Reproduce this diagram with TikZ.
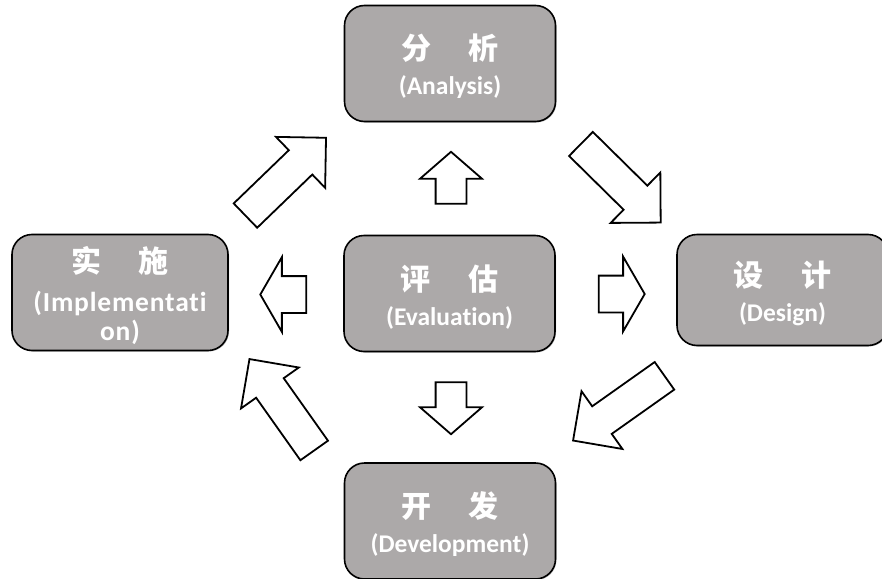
\documentclass[tikz,border=0pt]{standalone}
\usepackage{fontspec}
\setmainfont{Carlito}[Ligatures=NoCommon]
\newfontfamily\cjk{Noto Sans CJK SC}
\usetikzlibrary{calc, shapes.arrows, shadows}

\definecolor{boxgrey}{RGB}{172,169,169}

\tikzset{
	phase/.style = {draw = black, line width = 1.6pt, fill = boxgrey, rounded corners = 20pt,
		minimum width = 211pt, minimum height = 116pt, text = white, align = center,
		font = \fontsize{25.5}{29}\selectfont\bfseries, inner sep = 0pt,
		drop shadow = {shadow xshift = 1pt, shadow yshift = -1pt, opacity = 0.5}},
	blockarrow/.style = {single arrow, draw = black, fill = white, line width = 1.8pt, inner xsep = 0pt},
	bigarrow/.style = {blockarrow, inner ysep = 16pt, single arrow head extend = 18.5pt,
		single arrow tip angle = 90, minimum height = 112pt},
	vertarrow/.style = {blockarrow, inner ysep = 14.5pt, single arrow head extend = 15.5pt,
		single arrow tip angle = 98, minimum height = 52pt},
	horizarrow/.style = {blockarrow, inner ysep = 17.5pt, single arrow head extend = 19pt,
		single arrow tip angle = 120, minimum height = 46pt}
}
\newcommand{\zhpair}[2]{{\cjk\fontsize{30}{29}\selectfont #1\hspace{38pt}#2\rule{0pt}{32pt}}}
\newcommand{\wideen}{\fontsize{27.5}{29}\selectfont\addfontfeatures{LetterSpace=3}}

\begin{document}
\begin{tikzpicture}[x = 1pt, y = -1pt]
	\useasboundingbox (0,0) rectangle (882,578);

	\node[phase] (ana) at (450,63.5) {\zhpair{分}{析}\\[6pt](Analysis)};
	\node[phase, minimum width = 216pt] (imp) at (120,292.5)
		{\zhpair{实}{施}\\[10pt]\wideen(Implementati\\\wideen on)};
	\node[phase] (eva) at (449.5,293.5) {\zhpair{评}{估}\\[6pt](Evaluation)};
	\node[phase, minimum height = 111pt] (des) at (782.5,290) {\zhpair{设}{计}\\[6pt](Design)};
	\node[phase] (dev) at (450,521) {\zhpair{开}{发}\\[6pt](Development)};

	% small arrows out of the evaluation box
	\node[vertarrow, rotate = 90, anchor = tail] (toana) at ($(eva.north)+(1.5,-30)$) {};
	\node[vertarrow, rotate = -90, anchor = tail] (todev) at ($(eva.south)+(1.5,29)$) {};
	\node[horizarrow, rotate = 180, anchor = tail] (toimp) at ($(eva.west)+(-36,1)$) {};
	\node[horizarrow, anchor = tail] (todes) at ($(eva.east)+(42,0.5)$) {};

	% big arrows of the cycle
	\node[bigarrow, rotate = 44, anchor = tail] (impana) at ($(imp.north east)+(16,-17.5)$) {};
	\node[bigarrow, rotate = -44.6, anchor = tail] (anades) at ($(ana.south east)+(24,21)$) {};
	\node[bigarrow, rotate = -144.7, anchor = tail] (desdev) at ($(des.south west)+(-11,29)$) {};
	\node[bigarrow, rotate = 125.3, anchor = tail] (devimp) at ($(dev.north west)+(-29,-11)$) {};
\end{tikzpicture}
\end{document}
